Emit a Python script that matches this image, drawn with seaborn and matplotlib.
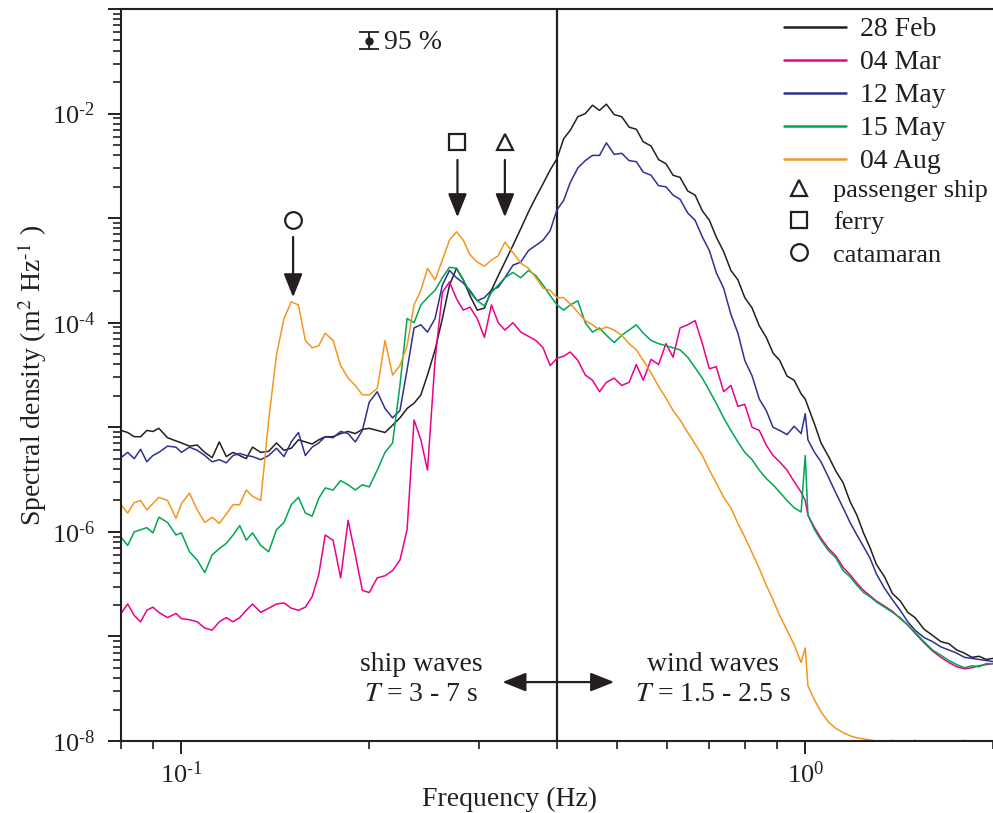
import numpy as np
import pandas as pd
import matplotlib
matplotlib.use("Agg")
import matplotlib.pyplot as plt
from matplotlib.lines import Line2D
from matplotlib.ticker import LogLocator, FuncFormatter, NullFormatter
import seaborn as sns

# ---------------- data ----------------
freq_hz = [0.080, 0.082, 0.084, 0.086, 0.088, 0.090, 0.092, 0.095, 0.098, 0.100,
           0.103, 0.106, 0.109, 0.112, 0.115, 0.118, 0.121, 0.124, 0.127, 0.130,
           0.134, 0.138, 0.142, 0.146, 0.150, 0.154, 0.158, 0.162, 0.166, 0.170,
           0.175, 0.180, 0.185, 0.190, 0.195, 0.200, 0.206, 0.212, 0.218, 0.224,
           0.230, 0.236, 0.242, 0.248, 0.255, 0.262, 0.269, 0.276, 0.283, 0.290,
           0.298, 0.306, 0.314, 0.322, 0.330, 0.340, 0.350, 0.360, 0.370, 0.380,
           0.390, 0.400, 0.410, 0.420, 0.432, 0.444, 0.456, 0.468, 0.480, 0.494,
           0.508, 0.522, 0.536, 0.550, 0.566, 0.582, 0.598, 0.614, 0.630, 0.648,
           0.666, 0.684, 0.702, 0.720, 0.740, 0.760, 0.780, 0.800, 0.822, 0.844,
           0.866, 0.888, 0.910, 0.935, 0.960, 0.985, 1.000, 1.010, 1.035, 1.060,
           1.09, 1.12, 1.15, 1.18, 1.21, 1.24, 1.27, 1.30, 1.34, 1.38,
           1.42, 1.46, 1.50, 1.55, 1.60, 1.65, 1.70, 1.75, 1.80, 1.85,
           1.90, 1.95, 2.00]

# log10 of spectral density (m^2 Hz^-1)
feb28_log10 = [-5.03, -5.05, -5.09, -5.09, -5.03, -5.04, -5.01, -5.10, -5.13, -5.15,
               -5.18, -5.17, -5.24, -5.29, -5.14, -5.28, -5.24, -5.27, -5.30, -5.19,
               -5.24, -5.23, -5.15, -5.22, -5.20, -5.12, -5.14, -5.16, -5.12, -5.09,
               -5.09, -5.06, -5.04, -5.06, -5.02, -5.01, -5.03, -5.05, -4.98, -4.91,
               -4.82, -4.77, -4.69, -4.50, -4.26, -3.96, -3.64, -3.48, -3.59, -3.74,
               -3.88, -3.86, -3.69, -3.55, -3.42, -3.26, -3.10, -2.94, -2.80, -2.67,
               -2.54, -2.43, -2.24, -2.16, -2.03, -2.00, -1.92, -1.97, -1.91, -2.01,
               -2.03, -2.13, -2.15, -2.27, -2.31, -2.44, -2.48, -2.59, -2.61, -2.74,
               -2.78, -2.93, -3.02, -3.18, -3.32, -3.50, -3.59, -3.76, -3.86, -4.03,
               -4.14, -4.29, -4.36, -4.51, -4.55, -4.68, -4.73, -4.80, -4.97, -5.15,
               -5.28, -5.42, -5.53, -5.71, -5.84, -6.01, -6.15, -6.31, -6.43, -6.59,
               -6.66, -6.77, -6.82, -6.93, -6.99, -7.05, -7.07, -7.13, -7.16, -7.20,
               -7.19, -7.22, -7.21]
mar04_log10 = [-6.78, -6.69, -6.80, -6.86, -6.75, -6.72, -6.77, -6.82, -6.78, -6.83,
               -6.84, -6.86, -6.92, -6.94, -6.86, -6.82, -6.86, -6.82, -6.75, -6.69,
               -6.77, -6.73, -6.69, -6.68, -6.73, -6.75, -6.72, -6.62, -6.41, -6.03,
               -6.08, -6.44, -5.89, -6.22, -6.56, -6.58, -6.44, -6.42, -6.37, -6.27,
               -5.98, -4.93, -5.12, -5.41, -4.36, -3.71, -3.61, -3.77, -3.88, -3.85,
               -3.96, -4.14, -3.83, -4.00, -4.07, -4.00, -4.09, -4.13, -4.17, -4.24,
               -4.41, -4.34, -4.32, -4.28, -4.36, -4.50, -4.55, -4.66, -4.57, -4.53,
               -4.60, -4.57, -4.40, -4.55, -4.35, -4.40, -4.20, -4.33, -4.05, -4.02,
               -3.98, -4.20, -4.44, -4.42, -4.66, -4.60, -4.80, -4.78, -5.00, -5.03,
               -5.17, -5.27, -5.33, -5.41, -5.52, -5.62, -5.70, -5.84, -5.96, -6.06,
               -6.16, -6.23, -6.34, -6.41, -6.49, -6.56, -6.61, -6.66, -6.71, -6.76,
               -6.83, -6.89, -6.97, -7.06, -7.14, -7.20, -7.25, -7.29, -7.31, -7.30,
               -7.28, -7.27, -7.26]
may12_log10 = [-5.29, -5.24, -5.30, -5.21, -5.33, -5.27, -5.24, -5.18, -5.19, -5.24,
               -5.19, -5.22, -5.27, -5.33, -5.31, -5.34, -5.27, -5.25, -5.27, -5.28,
               -5.31, -5.27, -5.20, -5.28, -5.14, -5.05, -5.27, -5.19, -5.15, -5.09,
               -5.10, -5.04, -5.06, -5.14, -5.03, -4.76, -4.66, -4.82, -4.91, -4.84,
               -4.45, -4.05, -4.02, -4.09, -3.96, -3.64, -3.50, -3.57, -3.62, -3.69,
               -3.79, -3.76, -3.69, -3.66, -3.57, -3.45, -3.42, -3.31, -3.26, -3.21,
               -3.12, -2.92, -2.83, -2.66, -2.52, -2.45, -2.40, -2.40, -2.28, -2.39,
               -2.38, -2.45, -2.46, -2.56, -2.59, -2.69, -2.70, -2.78, -2.82, -2.95,
               -3.02, -3.18, -3.31, -3.52, -3.67, -3.92, -4.10, -4.36, -4.51, -4.73,
               -4.84, -5.00, -5.03, -5.07, -4.99, -5.06, -4.87, -5.12, -5.24, -5.33,
               -5.48, -5.63, -5.77, -5.91, -6.03, -6.14, -6.25, -6.40, -6.54, -6.65,
               -6.75, -6.86, -6.94, -7.01, -7.05, -7.10, -7.13, -7.16, -7.20, -7.21,
               -7.22, -7.23, -7.24]
may15_log10 = [-6.05, -6.13, -6.00, -5.98, -5.96, -6.01, -5.86, -5.91, -6.03, -6.01,
               -6.19, -6.27, -6.39, -6.22, -6.16, -6.11, -6.03, -5.94, -6.08, -6.01,
               -6.13, -6.19, -5.98, -5.91, -5.74, -5.67, -5.82, -5.85, -5.68, -5.58,
               -5.60, -5.51, -5.55, -5.60, -5.55, -5.57, -5.41, -5.24, -5.15, -4.60,
               -3.96, -4.00, -3.83, -3.76, -3.69, -3.57, -3.47, -3.48, -3.59, -3.71,
               -3.79, -3.84, -3.71, -3.64, -3.57, -3.52, -3.57, -3.50, -3.55, -3.64,
               -3.74, -3.83, -3.88, -3.83, -3.79, -4.00, -4.09, -4.05, -4.12, -4.19,
               -4.12, -4.07, -4.02, -4.10, -4.17, -4.20, -4.22, -4.24, -4.26, -4.33,
               -4.43, -4.53, -4.65, -4.77, -4.91, -5.03, -5.14, -5.24, -5.31, -5.41,
               -5.49, -5.55, -5.62, -5.70, -5.77, -5.81, -5.27, -5.84, -5.98, -6.08,
               -6.18, -6.25, -6.37, -6.43, -6.51, -6.58, -6.62, -6.67, -6.72, -6.77,
               -6.82, -6.89, -6.96, -7.05, -7.13, -7.18, -7.23, -7.27, -7.30, -7.28,
               -7.29, -7.26, -7.26]
aug04_log10 = [-5.74, -5.82, -5.72, -5.70, -5.79, -5.73, -5.67, -5.70, -5.87, -5.73,
               -5.63, -5.79, -5.91, -5.86, -5.92, -5.83, -5.74, -5.74, -5.60, -5.66,
               -5.70, -4.93, -4.31, -3.96, -3.80, -3.83, -4.17, -4.24, -4.22, -4.10,
               -4.17, -4.41, -4.53, -4.60, -4.69, -4.69, -4.63, -4.17, -4.50, -4.41,
               -4.22, -3.83, -3.69, -3.48, -3.59, -3.40, -3.21, -3.13, -3.21, -3.35,
               -3.42, -3.46, -3.40, -3.36, -3.23, -3.33, -3.43, -3.48, -3.57, -3.67,
               -3.69, -3.76, -3.76, -3.82, -3.90, -3.98, -4.02, -4.07, -4.04, -4.07,
               -4.12, -4.20, -4.26, -4.36, -4.48, -4.61, -4.72, -4.84, -4.93, -5.05,
               -5.16, -5.27, -5.41, -5.53, -5.67, -5.77, -5.92, -6.05, -6.20, -6.35,
               -6.51, -6.65, -6.80, -6.94, -7.08, -7.25, -7.11, -7.47, -7.61, -7.72,
               -7.82, -7.88, -7.92, -7.95, -7.97, -7.98, -7.99, -8.00, -8.04, -7.99,
               -8.07, -8.09, -7.99, -8.11, -8.13, -8.02, -8.16, -8.18, -7.99, -8.20,
               -8.23, -8.02, -8.26]

series_labels = ["28 Feb", "04 Mar", "12 May", "15 May", "04 Aug"]
series_colors = ["#231f20", "#ec008c", "#2e3192", "#00a651", "#f7941d"]

ship_labels = ["passenger ship", "ferry", "catamaran"]
ship_markers = ["^", "s", "o"]
ship_freq = [0.330, 0.277, 0.151]
ship_symbol_psd = [5.3e-3, 5.3e-3, 9.5e-4]
arrow_start_psd = [3.6e-3, 3.6e-3, 6.6e-4]
arrow_tip_psd = [1.02e-3, 1.02e-3, 1.75e-4]

ci_freq = [0.2]
ci_center = [0.049]
ci_low = [0.0412]
ci_high = [0.0598]
split_freq = 0.4
band_arrow = (0.327, 0.494, 3.66e-8)

# ---------------- style ----------------
sns.set_theme(style="ticks")
plt.rcParams["font.family"] = ["Liberation Serif", "DejaVu Serif"]
plt.rcParams["mathtext.fontset"] = "stix"
plt.rcParams["axes.linewidth"] = 1.5
txt_color = "#231f20"

fig = plt.figure(figsize=(9.93, 8.13), dpi=100)
ax = fig.add_axes([0.12185, 0.08856, 0.87815, 0.90037])

frames = []
for lab, vals in zip(series_labels, [feb28_log10, mar04_log10, may12_log10, may15_log10, aug04_log10]):
    frames.append(pd.DataFrame({"freq": freq_hz, "psd": 10.0 ** np.array(vals), "date": lab}))
df = pd.concat(frames, ignore_index=True)

ax.set_xscale("log")
ax.set_yscale("log")
sns.lineplot(data=df, x="freq", y="psd", hue="date", hue_order=series_labels,
             palette=series_colors, estimator=None, sort=False, lw=1.1,
             legend=False, ax=ax)

ax.set_xlim(0.08, 2.0)
ax.set_ylim(1e-8, 1e-1)

ax.axvline(split_freq, color=txt_color, lw=1.6, zorder=1)

# ticks
ax.xaxis.set_major_locator(LogLocator(base=10, numticks=10))
ax.xaxis.set_minor_locator(LogLocator(base=10, subs=np.arange(2, 10) * 1.0, numticks=10))
ax.yaxis.set_major_locator(LogLocator(base=10, numticks=20))
ax.yaxis.set_minor_locator(LogLocator(base=10, subs=np.arange(2, 10) * 1.0, numticks=20))

def pow_label(e):
    if e < 0:
        return r"$\mathregular{10^{\text{-}%d}}$" % (-e)
    return r"$\mathregular{10^{%d}}$" % e

def xfmt(v, pos):
    return pow_label(int(round(np.log10(v))))

def yfmt(v, pos):
    e = int(round(np.log10(v)))
    return pow_label(e) if e % 2 == 0 else ""

ax.xaxis.set_major_formatter(FuncFormatter(xfmt))
ax.xaxis.set_minor_formatter(NullFormatter())
ax.yaxis.set_major_formatter(FuncFormatter(yfmt))
ax.yaxis.set_minor_formatter(NullFormatter())

ax.tick_params(which="both", direction="out", color=txt_color, top=False, right=False)
ax.tick_params(which="major", length=9.5, width=1.4, labelsize=19, labelcolor=txt_color)
ax.tick_params(axis="y", which="major", pad=9)
ax.tick_params(axis="x", which="major", pad=5)
ax.tick_params(which="minor", length=5.5, width=1.2)
ax.spines["right"].set_visible(False)
for s in ["left", "bottom", "top"]:
    ax.spines[s].set_color(txt_color)

ax.set_xlabel("Frequency (Hz)", fontsize=20, color=txt_color)
ax.xaxis.set_label_coords(0.446, -0.062)
ax.set_ylabel(r"Spectral density (m$^{2}$ Hz$^{\text{-}1}$ )", fontsize=20, color=txt_color)
ax.yaxis.set_label_coords(-0.083, 0.5)

# legends
line_handles = [Line2D([], [], color=c, lw=1.8) for c in series_colors]
leg1 = ax.legend(line_handles, series_labels, loc="upper left", bbox_to_anchor=(0.760, 0.989),
                 frameon=False, handlelength=2.25, handletextpad=0.5, labelspacing=0.27,
                 borderpad=0, borderaxespad=0, fontsize=20, labelcolor=txt_color)
ax.add_artist(leg1)
mk_handles = [Line2D([], [], ls="none", marker=m, mfc="none", mec=txt_color, ms=12, mew=1.6)
              for m in ship_markers]
leg2 = ax.legend(mk_handles, ship_labels, loc="upper left", bbox_to_anchor=(0.762, 0.768),
                 frameon=False, handlelength=1.0, handletextpad=0.82, labelspacing=0.33,
                 borderpad=0, borderaxespad=0, fontsize=19, labelcolor=txt_color)

# ship markers and arrows
for f, m, p, a, b in zip(ship_freq, ship_markers, ship_symbol_psd, arrow_start_psd, arrow_tip_psd):
    ax.plot([f], [p], ls="none", marker=m, mfc="white", mec=txt_color, ms=12, mew=1.6, zorder=5)
    ax.annotate("", xy=(f, b), xytext=(f, a),
                arrowprops=dict(arrowstyle="-|>,head_length=0.8,head_width=0.32",
                                color=txt_color, lw=1.6, shrinkA=0, shrinkB=0,
                                mutation_scale=18), zorder=5)

# band arrow and texts
ax.annotate("", xy=(band_arrow[0], band_arrow[2]), xytext=(band_arrow[1], band_arrow[2]),
            arrowprops=dict(arrowstyle="<|-|>,head_length=0.8,head_width=0.32",
                            color=txt_color, lw=1.6, shrinkA=0, shrinkB=0, mutation_scale=18))
ax.text(0.344, 0.104, "ship waves", transform=ax.transAxes, ha="center", va="center",
        fontsize=20, color=txt_color)
ax.text(0.344, 0.063, r"$T$ = 3 - 7 s", transform=ax.transAxes, ha="center", va="center",
        fontsize=20, color=txt_color)
ax.text(0.679, 0.104, "wind waves", transform=ax.transAxes, ha="center", va="center",
        fontsize=20, color=txt_color)
ax.text(0.679, 0.063, r"$T$ = 1.5 - 2.5 s", transform=ax.transAxes, ha="center", va="center",
        fontsize=20, color=txt_color)

# 95 % confidence bar
ax.errorbar(ci_freq, ci_center,
            yerr=[[ci_center[0] - ci_low[0]], [ci_high[0] - ci_center[0]]],
            fmt="o", color=txt_color, ms=5, capsize=7, elinewidth=1.3, capthick=1.3)
ax.text(0.2115, ci_center[0] * 0.97, "95 %", ha="left", va="center", fontsize=20, color=txt_color)

fig.savefig("out.png", dpi=100)
